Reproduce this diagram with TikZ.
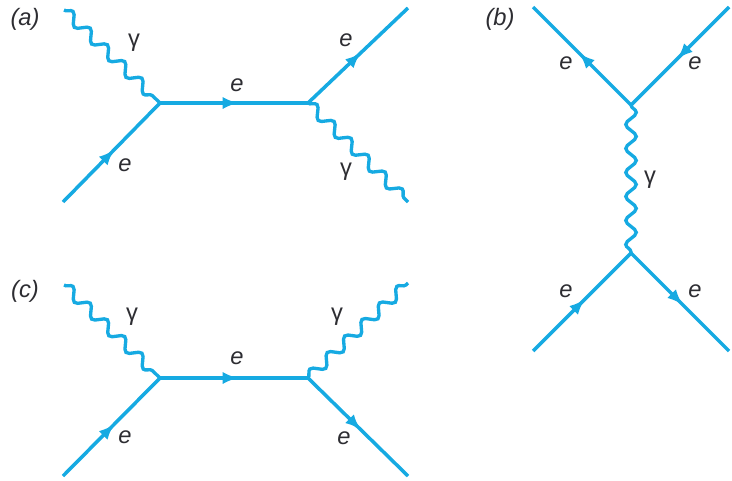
\documentclass[tikz,border=0pt]{standalone}
\usepackage{fontspec}
\setmainfont{Liberation Sans}
\usetikzlibrary{arrows.meta,decorations.pathmorphing,decorations.markings}
\definecolor{colLine}{RGB}{22,170,226}
\definecolor{colText}{RGB}{45,45,50}

\begin{document}
\begin{tikzpicture}[x=0.02cm, y=-0.02cm,
    every node/.style={font=\fontsize{13.5}{16}\selectfont, text=colText, inner sep=0pt},
    lbl/.style={font=\fontsize{13.5}{16}\selectfont\itshape},
    fermion/.style={colLine, line width=2pt, postaction={decorate}, decoration={markings,
        mark=at position 0.53 with {\arrow{Latex[length=9pt,width=7pt]}}}},
    photon/.style={colLine, line width=1.9pt, decorate, decoration={snake, amplitude=0.105cm, segment length=0.48cm}}]
    \useasboundingbox (0,0) rectangle (732,480);

    % diagram a
    \coordinate (a1) at (160,103);
    \coordinate (a2) at (308,103);
    \coordinate (aIn) at (63,202);
    \coordinate (aOut) at (408,8);
    \coordinate (aPhIn) at (64,10);
    \coordinate (aPhOut) at (408,202);
    \draw[photon] (aPhIn) -- (a1);
    \draw[photon] (a2) -- (aPhOut);
    \draw[fermion] (aIn) -- (a1);
    \draw[fermion] (a1) -- (a2);
    \draw[fermion] (a2) -- (aOut);
    \node[lbl] (labA) at (25,19) {(a)};
    \node (gamA1) at (134,43) {γ};
    \node[lbl] (eA1) at (125,165) {e};
    \node[lbl] (eA2) at (237,85) {e};
    \node[lbl] (eA3) at (346,40) {e};
    \node (gamA2) at (346,172) {γ};

    % diagram b
    \coordinate (b1) at (631,105);
    \coordinate (b2) at (631,253);
    \coordinate (bTL) at (533,7);
    \coordinate (bTR) at (729,7);
    \coordinate (bBL) at (533,351);
    \coordinate (bBR) at (729,351);
    \draw[photon] (b1) -- (b2);
    \draw[fermion] (b1) -- (bTL);
    \draw[fermion] (bTR) -- (b1);
    \draw[fermion] (bBL) -- (b2);
    \draw[fermion] (b2) -- (bBR);
    \node[lbl] (labB) at (500,19) {(b)};
    \node[lbl] (eB1) at (566,63) {e};
    \node[lbl] (eB2) at (695,63) {e};
    \node (gamB) at (650,180) {γ};
    \node[lbl] (eB3) at (566,291) {e};
    \node[lbl] (eB4) at (695,291) {e};

    % diagram c
    \coordinate (c1) at (160,378);
    \coordinate (c2) at (308,378);
    \coordinate (cIn) at (63,476);
    \coordinate (cOut) at (408,476);
    \coordinate (cPhIn) at (64,285);
    \coordinate (cPhOut) at (408,283);
    \draw[photon] (cPhIn) -- (c1);
    \draw[photon] (c2) -- (cPhOut);
    \draw[fermion] (cIn) -- (c1);
    \draw[fermion] (c1) -- (c2);
    \draw[fermion] (c2) -- (cOut);
    \node[lbl] (labC) at (25,291) {(c)};
    \node (gamC1) at (132,317) {γ};
    \node (gamC2) at (337,317) {γ};
    \node[lbl] (eC1) at (125,437) {e};
    \node[lbl] (eC2) at (237,358) {e};
    \node[lbl] (eC3) at (344,438) {e};
\end{tikzpicture}
\end{document}
